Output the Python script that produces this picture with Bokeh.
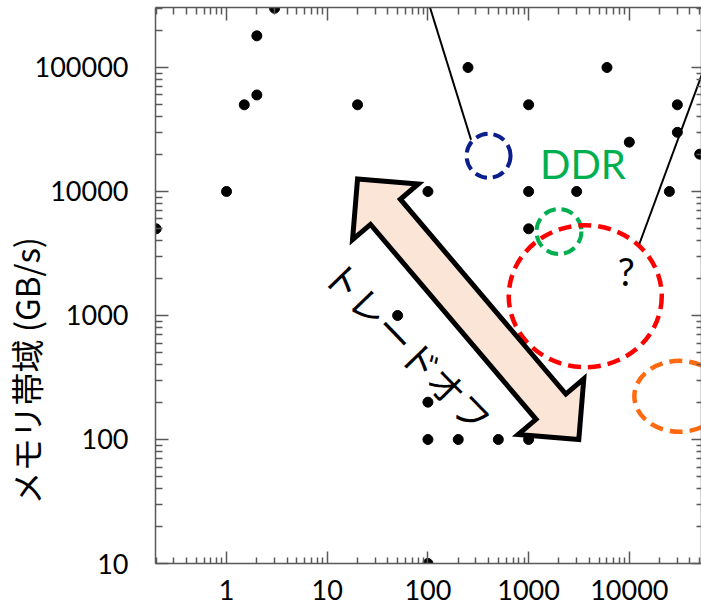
import numpy as np
from bokeh.plotting import figure
from bokeh.models import Range1d, LogAxis, FixedTicker, Label, ColumnDataSource, Title
from bokeh.embed import file_html
from bokeh.resources import INLINE

# ---------------- data ----------------
compute_x = [0.2, 1, 1.5, 2, 2, 3, 20, 50, 100, 100, 100, 100, 200, 250, 500,
             1000, 1000, 1000, 1000, 3000, 6000, 10000, 25000, 30000, 30000, 50000]
bandwidth_y = [5000, 10000, 50000, 60000, 180000, 300000, 50000, 1000, 10, 100, 200,
               10000, 100, 100000, 100, 100, 5000, 10000, 50000, 10000, 100000,
               25000, 10000, 30000, 50000, 20000]

x_tick_values = [1, 10, 100, 1000, 10000]
x_tick_labels = ["1", "10", "100", "1000", "10000"]
y_tick_values = [10, 100, 1000, 10000, 100000]
y_tick_labels = ["10", "100", "1000", "10000", "100000"]
y_title = "メモリ帯域 (GB/s)"

# dashed region circles (centre in data units, diameter in px)
circle_x = [400, 2000]
circle_y = [19400, 4750]
circle_d = [44, 45]
circle_color = ["#0A1E8C", "#00B050"]

# dashed region ellipses
ellipse_x = [3650, 31400]
ellipse_y = [1430, 223]
ellipse_w = [153, 90]
ellipse_h = [142, 71]
ellipse_color = ["#FF0000", "#FF6A10"]

# callout lines
callout_x0 = [268, 12600]
callout_y0 = [26100, 3790]
callout_x1 = [100, 98000]
callout_y1 = [345000, 345000]

# trade-off arrow (tips in data units)
arrow_a = (20, 12600)
arrow_b = (3150, 100)

X_START, X_END = 0.197, 52100
Y_START, Y_END = 10, 304600
FRAME_W, FRAME_H = 545, 556

p = figure(width=701, height=612, x_axis_type="log", y_axis_type="log",
           x_range=Range1d(X_START, X_END), y_range=Range1d(Y_START, Y_END),
           output_backend="svg", toolbar_location=None,
           min_border_left=155, min_border_right=0, min_border_top=7,
           min_border_bottom=49)
p.outline_line_color = None
p.xgrid.visible = False
p.ygrid.visible = False
p.background_fill_color = "white"

AX_COLOR = "#595959"

x_minor = [m * 10.0 ** k for k in range(-1, 5) for m in range(2, 10)]
y_minor = [m * 10.0 ** k for k in range(1, 6) for m in range(2, 10)]


def style_axis(ax, major_in, minor_in, show_labels, standoff=0):
    ax.axis_line_color = AX_COLOR
    ax.axis_line_width = 1.5
    ax.major_tick_line_color = AX_COLOR
    ax.minor_tick_line_color = AX_COLOR
    ax.major_tick_line_width = 1.5
    ax.minor_tick_line_width = 1.5
    ax.major_tick_in = major_in
    ax.major_tick_out = 0
    ax.minor_tick_in = minor_in
    ax.minor_tick_out = 0
    ax.major_label_standoff = standoff
    if show_labels:
        ax.major_label_text_font = "Lato"
        ax.major_label_text_font_size = "27px"
        ax.major_label_text_color = "black"
    else:
        ax.major_label_text_font_size = "0px"
        ax.major_label_text_color = None


xt = FixedTicker(ticks=x_tick_values, minor_ticks=x_minor)
yt = FixedTicker(ticks=y_tick_values, minor_ticks=y_minor)

p.xaxis.ticker = xt
p.yaxis.ticker = yt
p.xaxis.major_label_overrides = dict(zip(x_tick_values, x_tick_labels))
p.yaxis.major_label_overrides = dict(zip(y_tick_values, y_tick_labels))
style_axis(p.xaxis[0], 12, 6, True, 16)
style_axis(p.yaxis[0], 13, 7, True, 27)

top = LogAxis(ticker=FixedTicker(ticks=x_tick_values, minor_ticks=x_minor))
style_axis(top, 13, 7, False)
p.add_layout(top, "above")
right = LogAxis(ticker=FixedTicker(ticks=y_tick_values, minor_ticks=y_minor))
style_axis(right, 10, 5, False)
p.add_layout(right, "right")

# y axis title as a side title
p.add_layout(Title(text=y_title, align="left", offset=59, standoff=-37,
                   text_font="Noto Sans CJK JP", text_font_size="33px",
                   text_font_style="normal", text_color="black"), "left")

# data points
src = ColumnDataSource(data=dict(x=compute_x, y=bandwidth_y))
p.scatter(x="x", y="y", source=src, size=10, color="black")

# dashed circles
p.scatter(x=circle_x, y=circle_y, size=circle_d, marker="circle",
          fill_color=None, line_color=circle_color, line_width=4, line_dash="12 6")

# dashed ellipses
p.ellipse(x=ellipse_x, y=ellipse_y, width=ellipse_w, height=ellipse_h,
          width_units="screen", height_units="screen",
          fill_color=None, line_color=ellipse_color, line_width=4.5, line_dash="13 7")

# callout lines
p.segment(x0=callout_x0, y0=callout_y0, x1=callout_x1, y1=callout_y1,
          line_color="black", line_width=2)

# arrow polygon computed in screen space
pxx = FRAME_W / (np.log10(X_END) - np.log10(X_START))
pxy = FRAME_H / (np.log10(Y_END) - np.log10(Y_START))


def to_px(pt):
    return np.array([np.log10(pt[0]) * pxx, np.log10(pt[1]) * pxy])


def from_px(v):
    return 10 ** (v[0] / pxx), 10 ** (v[1] / pxy)


A = to_px(arrow_a)
B = to_px(arrow_b)
d = B - A
L = np.hypot(*d)
t = d / L
n = np.array([-t[1], t[0]])
h, hw, sw = 43, 43, 19.5
verts = [A, A + h * t + hw * n, A + h * t + sw * n, B - h * t + sw * n,
         B - h * t + hw * n, B, B - h * t - hw * n, B - h * t - sw * n,
         A + h * t - sw * n, A + h * t - hw * n]
ax_, ay_ = zip(*[from_px(v) for v in verts])
p.patch(list(ax_), list(ay_), fill_color="#FBE5D6", line_color="black",
        line_width=5, line_join="miter")

# texts
p.add_layout(Label(x=3460, y=16640, text="DDR", text_font="Lato",
                   text_font_size="40px", text_color="#00B050",
                   text_align="center", text_baseline="middle"))
p.add_layout(Label(x=9330, y=2290, text="?", text_font="Lato",
                   text_font_size="38px", text_color="black",
                   text_align="center", text_baseline="middle"))
p.add_layout(Label(x=64.7, y=570, text="トレードオフ", text_font="Noto Sans CJK JP",
                   text_font_size="37px", text_color="black", angle=-0.80,
                   text_align="center", text_baseline="middle"))

open("out.html", "w").write(file_html(p, INLINE))
